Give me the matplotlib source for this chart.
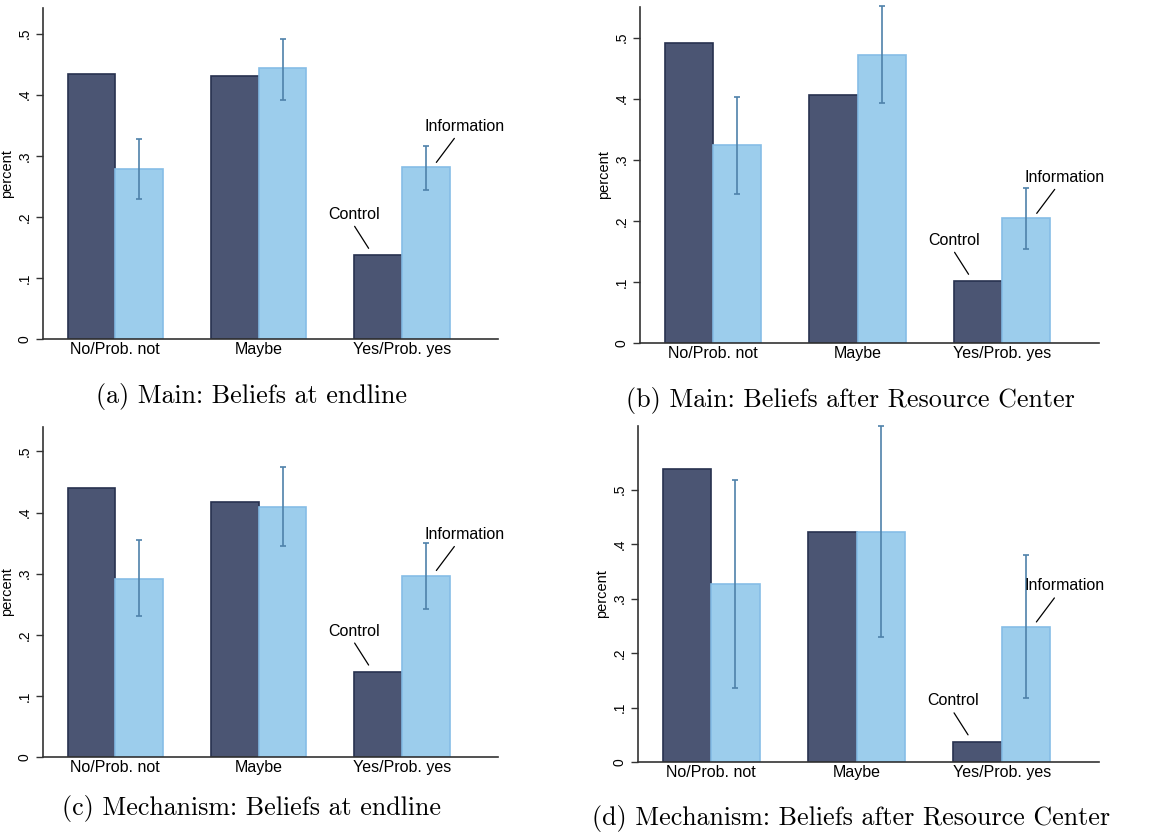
import numpy as np
import matplotlib
matplotlib.use("Agg")
import matplotlib.pyplot as plt
from matplotlib.transforms import offset_copy
from matplotlib.ticker import FuncFormatter

plt.rcParams['font.family'] = ['Liberation Sans', 'DejaVu Sans']

categories = ['No/Prob. not', 'Maybe', 'Yes/Prob. yes']
captions = ['(a) Main: Beliefs at endline',
            '(b) Main: Beliefs after Resource Center',
            '(c) Mechanism: Beliefs at endline',
            '(d) Mechanism: Beliefs after Resource Center']

# control share, information share, information CI low/high
control_a = [0.434, 0.430, 0.137]
info_a = [0.279, 0.443, 0.281]
info_lo_a = [0.229, 0.392, 0.244]
info_hi_a = [0.328, 0.492, 0.316]

control_b = [0.491, 0.406, 0.101]
info_b = [0.324, 0.471, 0.204]
info_lo_b = [0.244, 0.393, 0.154]
info_hi_b = [0.403, 0.551, 0.254]

control_c = [0.440, 0.418, 0.139]
info_c = [0.292, 0.409, 0.297]
info_lo_c = [0.230, 0.345, 0.243]
info_hi_c = [0.355, 0.474, 0.350]

control_d = [0.538, 0.423, 0.037]
info_d = [0.326, 0.423, 0.248]
info_lo_d = [0.136, 0.229, 0.118]
info_hi_d = [0.517, 0.617, 0.381]

panels = [
    (control_a, info_a, info_lo_a, info_hi_a),
    (control_b, info_b, info_lo_b, info_hi_b),
    (control_c, info_c, info_lo_c, info_hi_c),
    (control_d, info_d, info_lo_d, info_hi_d),
]

W, H = 1175, 835
# axes boxes in pixels: left, right, y of zero line, top
boxes = [(43, 498, 339, 8), (640, 1099, 343, 7),
         (43, 498, 757, 427), (638, 1099, 762, 426)]
ytops = [0.542, 0.55, 0.540, 0.617]
cap_pos = [(252, 397), (850, 400), (252, 808), (851, 818)]

dark = '#4b5573'
dark_edge = '#27314f'
light = '#9ccdec'
light_edge = '#86bde6'
err_col = '#4f82aa'

fig = plt.figure(figsize=(W / 100, H / 100), dpi=100)

x = np.arange(len(categories))
w = 0.333

for i, (ctrl, info, lo, hi) in enumerate(panels):
    l, r, y0, yt = boxes[i]
    ax = fig.add_axes([l / W, (H - y0) / H, (r - l) / W, (y0 - yt) / H])
    ctrl = np.array(ctrl); info = np.array(info)
    lo = np.array(lo); hi = np.array(hi)
    ax.bar(x - w / 2, ctrl, w, color=dark, edgecolor=dark_edge, linewidth=1.2)
    ax.bar(x + w / 2, info, w, color=light, edgecolor=light_edge, linewidth=1.2)
    eb = ax.errorbar(x + w / 2, info, yerr=[info - lo, hi - info], fmt='none',
                     ecolor=err_col, elinewidth=1.2, capsize=2.5, capthick=1.2)
    for a in eb.lines[1] + eb.lines[2]:
        a.set_clip_on(False)
    ax.set_xlim(-0.505, 2.67)
    ax.set_ylim(0, ytops[i])
    ax.set_yticks([0, 0.1, 0.2, 0.3, 0.4, 0.5])
    ax.yaxis.set_major_formatter(FuncFormatter(
        lambda v, p: '0' if v == 0 else ('%.1f' % v).lstrip('0')))
    ax.tick_params(axis='y', labelrotation=90, labelsize=10, length=5,
                   width=1, color='#333333', pad=3)
    for t in ax.get_yticklabels():
        t.set_va('center')
    ax.set_xticks(x)
    ax.set_xticklabels(categories)
    ax.tick_params(axis='x', length=0, labelsize=11.5, pad=2)
    ax.set_ylabel('percent', fontsize=10.5, labelpad=3)
    for s in ['top', 'right']:
        ax.spines[s].set_visible(False)
    for s in ['left', 'bottom']:
        ax.spines[s].set_color('#333333')
        ax.spines[s].set_linewidth(1.2)

    # marker labels on the last group
    cx, cy = x[2] - w / 2, ctrl[2]
    ix, iy = x[2] + w / 2, info[2]
    ax.annotate('', xy=(cx, cy),
                xycoords=offset_copy(ax.transData, fig=fig, x=-9.5, y=7, units='dots'),
                xytext=(-14, 22), textcoords='offset pixels',
                arrowprops=dict(arrowstyle='-', color='black', lw=0.9,
                                shrinkA=0, shrinkB=0))
    ax.annotate('Control', xy=(cx, cy), xytext=(-24, 41), textcoords='offset pixels',
                ha='center', va='center', fontsize=11.5)
    ax.annotate('', xy=(ix, iy),
                xycoords=offset_copy(ax.transData, fig=fig, x=10.5, y=5, units='dots'),
                xytext=(18, 24), textcoords='offset pixels',
                arrowprops=dict(arrowstyle='-', color='black', lw=0.9,
                                shrinkA=0, shrinkB=0))
    ax.annotate('Information', xy=(ix, iy), xytext=(38.5, 41), textcoords='offset pixels',
                ha='center', va='center', fontsize=11.5, annotation_clip=False)

    fig.text(cap_pos[i][0] / W, 1 - cap_pos[i][1] / H, captions[i],
             fontfamily='cmr10', fontsize=18.7, ha='center', va='center')

fig.savefig('out.png', dpi=100, facecolor='white')
